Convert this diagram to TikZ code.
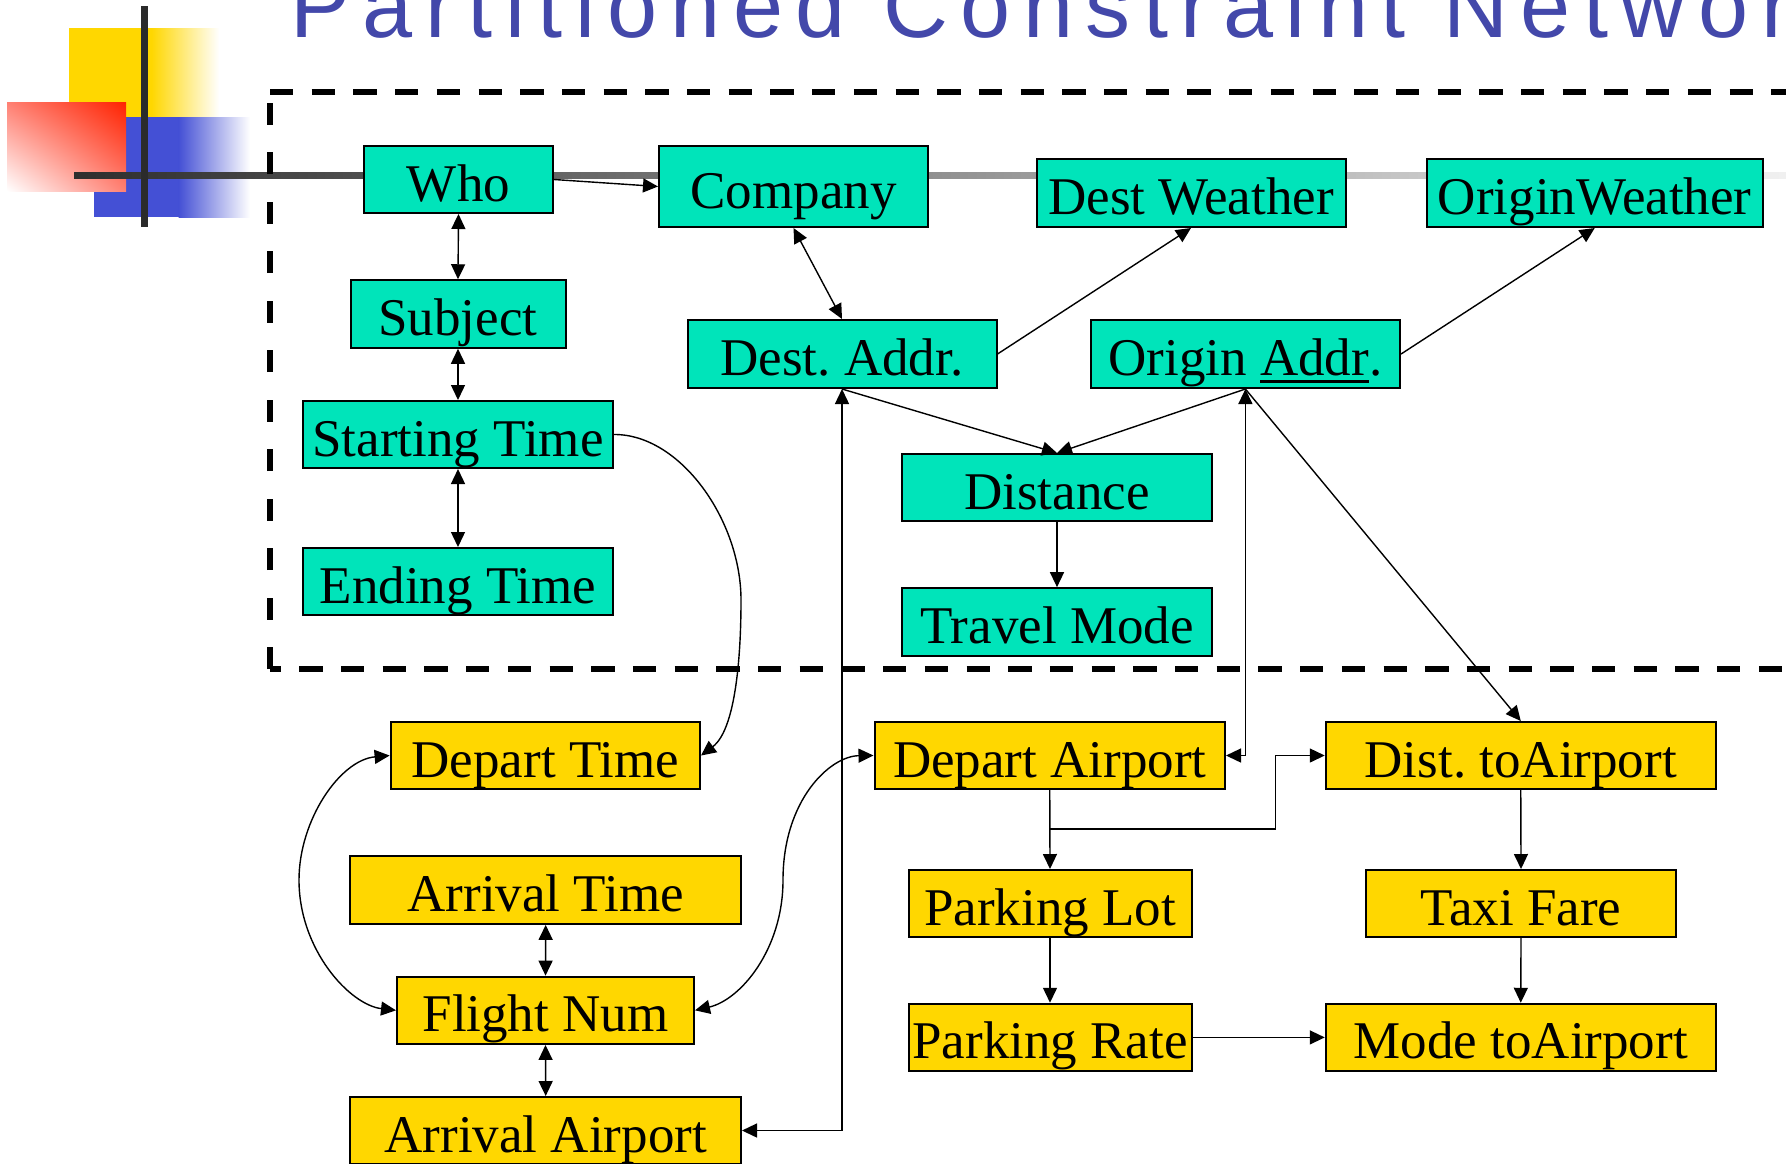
\documentclass[tikz,border=0pt]{standalone}
\usepackage{fontspec}
\setmainfont{Liberation Serif}
\newfontfamily\titlefont[LetterSpace=13.9]{Liberation Sans}
\usetikzlibrary{arrows.meta,shadings}

\definecolor{boxgreen}{RGB}{0,228,186}
\definecolor{boxgold}{RGB}{255,215,0}
\definecolor{titleblue}{RGB}{67,72,170}
\definecolor{decoblue}{RGB}{68,80,213}
\definecolor{decored}{RGB}{255,34,0}
\definecolor{decosalmon}{RGB}{255,128,115}
\definecolor{bardark}{RGB}{43,43,43}
\definecolor{barleft}{RGB}{46,46,46}
\definecolor{barmid}{RGB}{156,156,156}
\definecolor{barright}{RGB}{242,242,242}

% underline drawn as a rule under a word
\newcommand\ulword[1]{\setbox0\hbox{#1}\rlap{\rule[-3.5pt]{\wd0}{1.5pt}}\box0}

\begin{document}
\frenchspacing
\begin{tikzpicture}[x=0.5pt,y=-0.5pt,
  >={Triangle[length=7.5pt,width=7pt]},
  box/.style={draw=black, line width=1pt, inner sep=0pt,
    text height=21.5pt, text depth=0pt,
    font=\fontsize{26.5pt}{30pt}\selectfont},
  gbox/.style={box, fill=boxgreen},
  ybox/.style={box, fill=boxgold},
  conn/.style={line width=0.7pt, draw=black},
  frame/.style={line width=2.8pt, draw=black}]

\useasboundingbox (0,0) rectangle (1786,1163);
\clip (0,0) rectangle (1786,1163);
\fill[white] (0,0) rectangle (1786,1163);

% corner ornament: three squares and a cross of bars
\fill[boxgold] (69,28) rectangle (152,117);
\shade[left color=boxgold, right color=white] (151.5,28) rectangle (219,117);
\fill[decoblue] (94,117) rectangle (179,217);
\shade[left color=decoblue, right color=white] (178.5,117) rectangle (250,217);
\shade[upper right=decored, upper left=decosalmon, lower right=decosalmon, lower left=white]
  (7,102) rectangle (126,191);
\shade[left color=barleft, middle color=barmid, right color=barright]
  (74,172.5) rectangle (1800,178.5);
\fill[bardark] (141,6) rectangle (147.5,227);

% heading
\node[anchor=base west, inner sep=0pt, text=titleblue,
  font=\titlefont\fontsize{45pt}{50pt}\selectfont] (title) at (290,37)
  {Partitioned Constraint Network};

% dashed partition
\draw[frame, dash pattern=on 11.65pt off 9.2pt] (270,92) -- (1800,92);
\draw[frame, dash pattern=on 11pt off 13.75pt] (270,669) -- (270,92);
\draw[frame, dash pattern=on 11.65pt off 9.2pt, dash phase=6.2pt] (270,669) -- (1800,669);

% upper partition
\node[gbox, minimum width=94.5pt, minimum height=33.5pt] (who) at (458.5,179.5) {Who};
\node[gbox, minimum width=134.5pt, minimum height=40.5pt] (company) at (793.5,186.5) {Company};
\node[gbox, minimum width=154.5pt, minimum height=34pt] (destw) at (1191,193) {Dest Weather};
\node[gbox, minimum width=168.25pt, minimum height=34pt] (origw) at (1594.75,193) {OriginWeather};
\node[gbox, minimum width=107.5pt, minimum height=33.75pt] (subj) at (458,314) {Subject};
\node[gbox, minimum width=155pt, minimum height=33.5pt] (startt) at (458,434.5) {Starting Time};
\node[gbox, minimum width=155pt, minimum height=33.5pt] (endt) at (458,581.5) {Ending Time};
\node[gbox, minimum width=154.5pt, minimum height=34pt] (desta) at (842,354) {Dest. Addr.};
\node[gbox, minimum width=154.65pt, minimum height=34pt] (origa) at (1245.4,354) {Origin \ulword{Addr}.};
\node[gbox, minimum width=155pt, minimum height=33.5pt] (dist) at (1057,487.5) {Distance};
\node[gbox, minimum width=155pt, minimum height=33.85pt] (travel) at (1057,622) {Travel Mode};

% lower partition
\node[ybox, minimum width=154.7pt, minimum height=33.5pt] (dept) at (545.3,755.5) {Depart Time};
\node[ybox, minimum width=195.3pt, minimum height=33.85pt] (arrt) at (545.7,890) {Arrival Time};
\node[ybox, minimum width=148.5pt, minimum height=33.65pt] (fnum) at (545.5,1010.3) {Flight Num};
\node[ybox, minimum width=195.3pt, minimum height=33.5pt] (arra) at (545.7,1130.5) {Arrival Airport};
\node[ybox, minimum width=175.25pt, minimum height=33.5pt] (depa) at (1049.75,755.5) {Depart Airport};
\node[ybox, minimum width=195pt, minimum height=33.5pt] (dista) at (1520.75,755.5) {Dist. toAirport};
\node[ybox, minimum width=141.5pt, minimum height=33.5pt] (plot) at (1050,903.5) {Parking Lot};
\node[ybox, minimum width=154.65pt, minimum height=33.5pt] (taxi) at (1521,903.5) {Taxi Fare};
\node[ybox, minimum width=141.5pt, minimum height=33.65pt] (prate) at (1050,1037.4) {Parking Rate};
\node[ybox, minimum width=195pt, minimum height=33.65pt] (mode) at (1520.75,1037.4) {Mode toAirport};

% constraints
\draw[conn,->] (who.east) -- (company.west);
\draw[conn,<->] (who.south) -- (subj.north);
\draw[conn,<->] (subj.south) -- (startt.north);
\draw[conn,<->] (startt.south) -- (endt.north);
\draw[conn,<->] (company.south) -- (desta.north);
\draw[conn,->] (desta.east) -- (destw.south);
\draw[conn,->] (origa.east) -- (origw.south);
\draw[conn,->] (desta.south) -- (dist.north);
\draw[conn,->] (origa.south) -- (dist.north);
\draw[conn,->] (dist.south) -- (travel.north);
\draw[conn,->] (startt.east) .. controls (680,434) and (741,520) .. (741,600)
  .. controls (741,660) and (735,730) .. (dept.east);
\draw[conn,<->] (dept.west) .. controls (340,760) and (299,820) .. (299,880)
  .. controls (299,950) and (350,1005) .. (fnum.west);
\draw[conn,<->] (arrt.south) -- (fnum.north);
\draw[conn,<->] (fnum.south) -- (arra.north);
\draw[conn,<->] (fnum.east) .. controls (740,1000) and (783,950) .. (783,880)
  .. controls (783,800) and (830,756) .. (depa.west);
\draw[conn,<->] (desta.south) |- (arra.east);
\draw[conn,<->] (origa.south) |- (depa.east);
\draw[conn,->] (origa.south) -- (dista.north);
\draw[conn,->] (depa.south) -- (plot.north);
\coordinate (jog) at (1275.5,829);
\draw[conn,->] (depa.south) |- (jog) |- (dista.west);
\draw[conn,->] (plot.south) -- (prate.north);
\draw[conn,->] (prate.east) -- (mode.west);
\draw[conn,->] (dista.south) -- (taxi.north);
\draw[conn,->] (taxi.south) -- (mode.north);
\end{tikzpicture}
\end{document}
